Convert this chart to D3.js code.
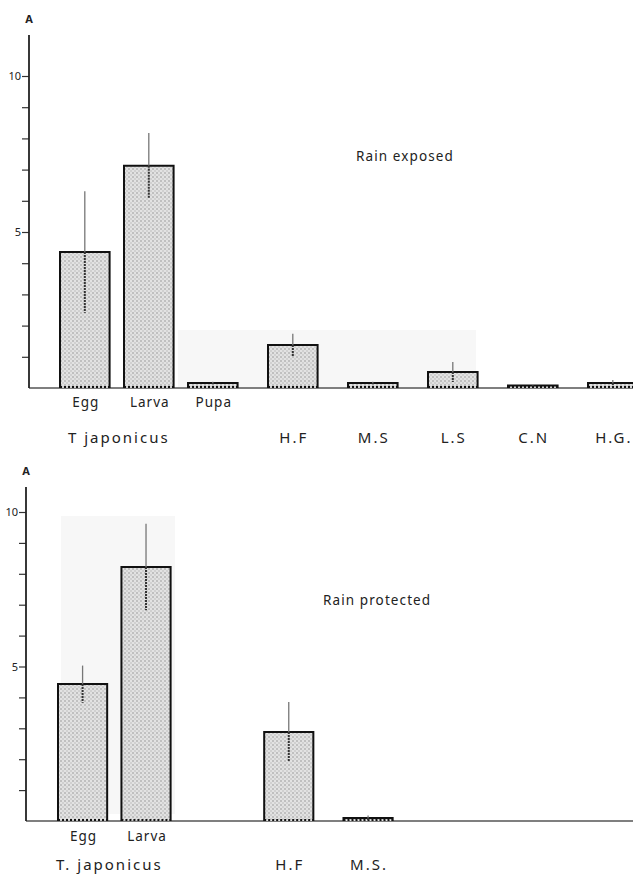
<!DOCTYPE html>
<html>
<head>
<meta charset="utf-8">
<script src="https://cdn.jsdelivr.net/npm/d3@7"></script>
<style>
  html, body { margin: 0; padding: 0; background: #fff; }
  svg { display: block; }
  text { font-family: "Noto Sans", "DejaVu Sans", sans-serif; fill: #222; }
</style>
</head>
<body>
<svg id="chart" width="633" height="874"></svg>
<script>
// ---- data ----
const stages = ["Egg", "Larva", "Pupa", "H.F", "M.S", "L.S", "C.N", "H.G"];
const groups = ["T japonicus", "T japonicus", "T japonicus", "H.F", "M.S", "L.S", "C.N", "H.G"];
const exposedMean = [4.36, 7.12, 0.16, 1.38, 0.16, 0.51, 0.08, 0.16];
const exposedErr  = [1.95, 1.05, 0.04, 0.36, 0.04, 0.32, 0.02, 0.1];
const protectedMean = [4.43, 8.22, null, 2.88, 0.10, null, null, null];
const protectedErr  = [0.6, 1.4, null, 0.97, 0.08, null, null, null];
const yTicks = [1, 2, 3, 4, 5, 6, 7, 8, 9, 10];
const yTickLabels = {5: "5", 10: "10"};
const topStageLabels = ["Egg", "Larva", "Pupa", "", "", "", "", ""];
const topGroupLabels = ["T japonicus", "H.F", "M.S", "L.S", "C.N", "H.G."];
const bottomStageLabels = ["Egg", "Larva", "", "", "", "", "", ""];
const bottomGroupLabels = ["T. japonicus", "H.F", "M.S.", "", "", ""];
const panelTitles = ["Rain exposed", "Rain protected"];

// ---- layout helpers ----
// slot index: stages within the same species group are closer than separate groups
const slots = [];
stages.forEach((s, i) => {
  if (i === 0) slots.push(0);
  else slots.push(slots[i - 1] + (groups[i] === groups[i - 1] ? 0.8 : 1.0));
});
const groupNames = Array.from(new Set(groups));

const svg = d3.select("#chart");
const defs = svg.append("defs");
const pat = defs.append("pattern")
  .attr("id", "stipple").attr("patternUnits", "userSpaceOnUse")
  .attr("width", 4).attr("height", 4);
pat.append("rect").attr("width", 4).attr("height", 4).attr("fill", "#e2e2e2");
pat.append("circle").attr("cx", 1).attr("cy", 1).attr("r", 0.8).attr("fill", "#959595");
pat.append("circle").attr("cx", 3).attr("cy", 3).attr("r", 0.7).attr("fill", "#b0b0b0");

function panel(cfg) {
  const g = svg.append("g");
  const x = d3.scaleLinear().domain([0, 1]).range([cfg.x0, cfg.x0 + cfg.step]);
  const y = d3.scaleLinear().domain([0, 10]).range([cfg.base, cfg.y10]);
  const bw = cfg.step * 0.62;

  // faint scan shading
  if (cfg.shade) {
    g.append("rect").attr("x", cfg.shade[0]).attr("y", cfg.shade[1])
      .attr("width", cfg.shade[2]).attr("height", cfg.shade[3]).attr("fill", "#f7f7f7");
  }

  // baseline
  g.append("line").attr("x1", cfg.axisX).attr("x2", 633)
    .attr("y1", y(0)).attr("y2", y(0))
    .attr("stroke", "#555").attr("stroke-width", 1.5);

  // y axis
  const axis = d3.axisLeft(y).tickValues(yTicks).tickSize(7)
    .tickFormat(d => yTickLabels[d] || "");
  const ag = g.append("g").attr("transform", `translate(${cfg.axisX},0)`).call(axis);
  ag.select(".domain").remove();
  ag.selectAll(".tick line").attr("stroke", "#333").attr("stroke-width", 1.2);
  ag.selectAll(".tick text").attr("font-size", 11).attr("fill", "#444").attr("x", -8);
  g.append("line").attr("x1", cfg.axisX).attr("x2", cfg.axisX)
    .attr("y1", cfg.axisTop).attr("y2", y(0))
    .attr("stroke", "#222").attr("stroke-width", 1.8);
  g.append("text").attr("x", cfg.axisX).attr("y", cfg.axisTop - 12)
    .attr("text-anchor", "middle").attr("font-size", 11).attr("font-weight", "bold")
    .text("A");

  // bars
  const data = stages.map((s, i) => ({ s, i, v: cfg.mean[i], e: cfg.err[i] }))
    .filter(d => d.v != null);
  const bars = g.selectAll(".bar").data(data).enter().append("g");
  bars.append("rect")
    .attr("x", d => x(slots[d.i])).attr("width", bw)
    .attr("y", d => y(d.v)).attr("height", d => y(0) - y(d.v))
    .attr("fill", "url(#stipple)");
  // outline: left, top, right solid; bottom dotted
  bars.append("path")
    .attr("d", d => `M${x(slots[d.i])},${y(0)}V${y(d.v)}H${x(slots[d.i]) + bw}V${y(0)}`)
    .attr("fill", "none").attr("stroke", "#111").attr("stroke-width", 2);
  bars.append("line")
    .attr("x1", d => x(slots[d.i])).attr("x2", d => x(slots[d.i]) + bw)
    .attr("y1", y(0) - 1).attr("y2", y(0) - 1)
    .attr("stroke", "#111").attr("stroke-width", 2).attr("stroke-dasharray", "2,2");
  // error bars
  bars.append("line")
    .attr("x1", d => x(slots[d.i]) + bw / 2).attr("x2", d => x(slots[d.i]) + bw / 2)
    .attr("y1", d => y(d.v + d.e)).attr("y2", d => y(d.v))
    .attr("stroke", "#777").attr("stroke-width", 1.3);
  bars.append("line")
    .attr("x1", d => x(slots[d.i]) + bw / 2).attr("x2", d => x(slots[d.i]) + bw / 2)
    .attr("y1", d => y(d.v)).attr("y2", d => y(Math.max(0, d.v - d.e)))
    .attr("stroke", "#333").attr("stroke-width", 2).attr("stroke-dasharray", "2,1");

  // stage labels
  g.selectAll(".stage").data(cfg.stageLabels.map((t, i) => ({ t, i })).filter(d => d.t))
    .enter().append("text")
    .attr("x", d => x(slots[d.i]) + bw / 2 + 1).attr("y", cfg.stageY)
    .attr("text-anchor", "middle").attr("font-size", 13.5).attr("letter-spacing", 1)
    .text(d => d.t);

  // group labels (centred on first two stages of a group, else on the bar)
  g.selectAll(".grp").data(cfg.groupLabels.map((t, k) => ({ t, k })).filter(d => d.t))
    .enter().append("text")
    .attr("x", d => {
      const idx = groups.map((gname, i) => gname === groupNames[d.k] ? i : -1).filter(i => i >= 0);
      const a = x(slots[idx[0]]);
      const b = x(slots[idx[Math.min(1, idx.length - 1)]]) + bw;
      return (a + b) / 2 + (idx.length > 1 ? cfg.grpShift : 1);
    })
    .attr("y", cfg.groupY)
    .attr("text-anchor", "middle").attr("font-size", 15).attr("letter-spacing", 2)
    .text(d => d.t);

  // title
  g.append("text").attr("x", cfg.titleX).attr("y", cfg.titleY)
    .attr("font-size", 13.5).attr("letter-spacing", 1.1).text(cfg.title);
}

panel({
  x0: 60, step: 80, base: 388, y10: 76, axisX: 29, axisTop: 35,
  mean: exposedMean, err: exposedErr,
  stageLabels: topStageLabels, groupLabels: topGroupLabels,
  stageY: 407, groupY: 443, grpShift: 2,
  title: panelTitles[0], titleX: 356, titleY: 161,
  shade: [178, 330, 298, 57]
});

panel({
  x0: 58, step: 79.3, base: 821, y10: 512, axisX: 26, axisTop: 487,
  mean: protectedMean, err: protectedErr,
  stageLabels: bottomStageLabels, groupLabels: bottomGroupLabels,
  stageY: 841, groupY: 870, grpShift: -5,
  title: panelTitles[1], titleX: 323, titleY: 605,
  shade: [61, 516, 114, 298]
});
</script>
</body>
</html>
